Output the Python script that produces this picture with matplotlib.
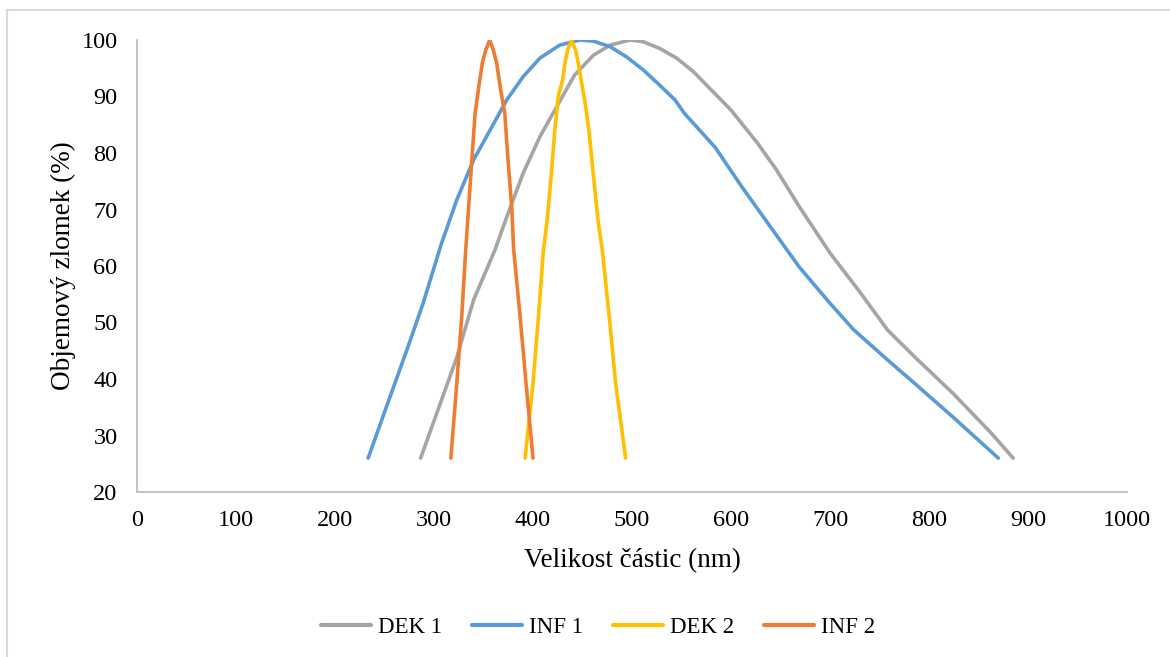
import matplotlib
matplotlib.use("Agg")
import matplotlib.pyplot as plt
from matplotlib.patches import Rectangle

# ---- data ----
dek1_x = [286.5, 306, 323, 340, 361.5, 373.5, 390, 407, 424, 442, 461, 478, 498, 511.4,
          528, 545, 562, 575.4, 600, 627, 646, 669, 700, 731, 758, 785, 824, 863, 885]
dek1_y = [26, 35.5, 43.8, 54, 62.8, 68.7, 76.4, 82.9, 88.2, 93.8, 97.3, 99.1, 100, 99.7,
          98.5, 96.8, 94.4, 92, 87.6, 81.7, 77, 70.5, 62.3, 55.2, 48.7, 44, 37.5, 30.4, 26]

inf1_x = [233.5, 252, 272.5, 289, 307, 323, 340, 356.5, 373.5, 390, 407, 427, 447.5, 461,
          478, 494.6, 511.4, 528, 543.4, 553, 584, 611, 642, 669, 700, 724, 758, 785, 824, 870]
inf1_y = [26, 35.1, 45.1, 53.4, 63.7, 71.7, 78.8, 84, 89.4, 93.5, 96.8, 99.1, 100, 99.8,
          98.8, 97, 94.7, 92, 89.4, 87, 81, 74, 66.4, 59.8, 53.4, 48.7, 43.4, 39.3, 33.3, 26]

dek2_x = [392, 400, 405.5, 410.5, 414, 418, 422, 425.5, 429.9, 432.3, 434.9, 439, 443,
          445.8, 448.2, 452.5, 456.5, 461.5, 466, 470, 477, 483.5, 493.5]
dek2_y = [26, 39.2, 51, 62.8, 67.6, 75.2, 84, 90, 92.9, 95.9, 98.2, 100, 98.2,
          95.9, 93.3, 89, 84, 75.2, 67.6, 62.8, 51, 39.2, 26]

inf2_x = [317, 323, 328, 332, 335, 338, 341.5, 344.8, 348.8, 352.2, 356.3, 360, 363.3,
          367.3, 371.5, 375, 378.5, 380.5, 387, 393, 400]
inf2_y = [26, 39.2, 51, 62.8, 70.5, 78.2, 87, 91.2, 95.9, 98.2, 100, 98.2, 95.9,
          91.2, 87, 78.2, 70.5, 62.8, 51, 39.2, 26]

series_names = ["DEK 1", "INF 1", "DEK 2", "INF 2"]
x_ticks = [0, 100, 200, 300, 400, 500, 600, 700, 800, 900, 1000]
y_ticks = [20, 30, 40, 50, 60, 70, 80, 90, 100]
x_label = "Velikost částic (nm)"
y_label = "Objemový zlomek (%)"

colors = ["#A5A5A5", "#5B9BD5", "#FFC000", "#ED7D31"]

plt.rcParams['font.family'] = ['Liberation Serif', 'DejaVu Serif']

fig = plt.figure(figsize=(11.7, 6.57), dpi=100)
ax = fig.add_axes([137 / 1170, 1 - 492 / 657, (1127 - 137) / 1170, (492 - 40) / 657])

# outer border of the chart area
fig.patches.append(Rectangle((7 / 1170, -0.05), 1.2, 1 - 10 / 657 + 0.05,
                             transform=fig.transFigure, fill=False,
                             edgecolor="#D9D9D9", linewidth=1.5))

data = [(dek1_x, dek1_y), (inf1_x, inf1_y), (dek2_x, dek2_y), (inf2_x, inf2_y)]
for (xs, ys), name, c in zip(data, series_names, colors):
    ax.plot(xs, ys, color=c, linewidth=2.6, label=name,
            solid_joinstyle="round", solid_capstyle="round")

ax.set_xlim(0, 1000)
ax.set_ylim(20, 100)
ax.set_xticks(x_ticks)
ax.set_yticks(y_ticks)
ax.tick_params(axis="both", length=0, labelsize=17.5, colors="black")
ax.tick_params(axis="x", pad=13)
ax.tick_params(axis="y", pad=14)
for s in ["top", "right"]:
    ax.spines[s].set_visible(False)
for s in ["left", "bottom"]:
    ax.spines[s].set_color("#BFBFBF")
    ax.spines[s].set_linewidth(1.3)

ax.set_xlabel(x_label, fontsize=19.5, labelpad=12)
ax.set_ylabel(y_label, fontsize=19.5, labelpad=4)

leg = fig.legend(loc="center", bbox_to_anchor=(598 / 1170, 1 - 627 / 657), ncol=4,
                 frameon=False, fontsize=16.5, handlelength=2.2, handletextpad=0.3,
                 columnspacing=1.3)
for line in leg.get_lines():
    line.set_linewidth(3)

fig.savefig("out.png", dpi=100)
